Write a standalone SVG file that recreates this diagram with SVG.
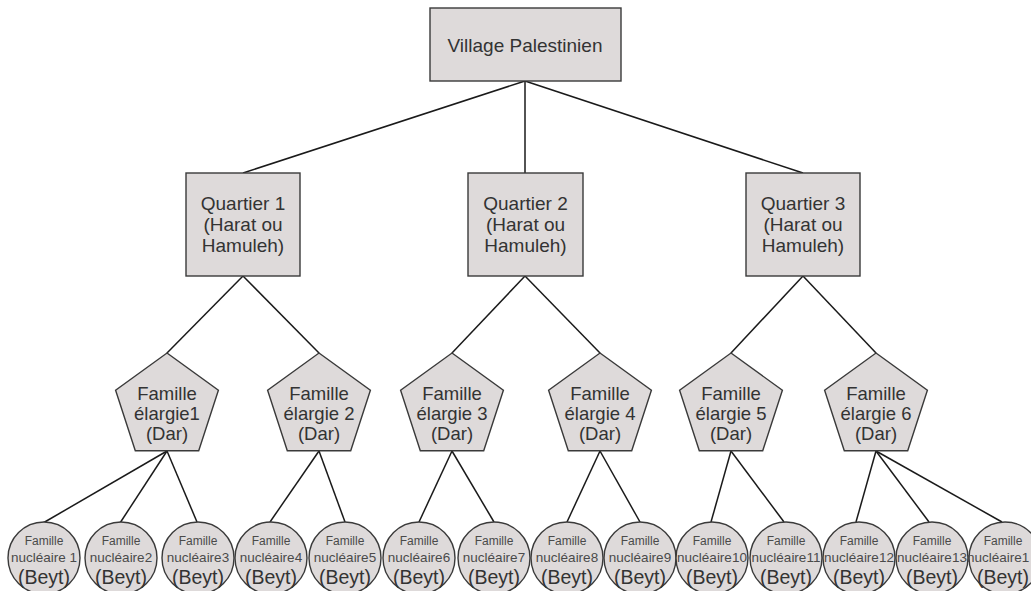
<svg xmlns="http://www.w3.org/2000/svg" width="1031" height="591" viewBox="0 0 1031 591">
<style>
.shape{fill:#dedada;stroke:#3a3a3a;stroke-width:1.4}
.t{font-family:"Liberation Sans",Arial,sans-serif;fill:#333;text-anchor:middle}
.big{font-size:19px}
.mid{font-size:18.5px}
.s1{font-size:12px;fill:#4a4a4a}
.s2{font-size:13.5px;fill:#4a4a4a}
.s3{font-size:19.5px}
#edges line{stroke:#1a1a1a;stroke-width:1.5}
</style>
<defs>
<polygon id="pent" points="0,-54 51.4,-16.7 31.7,43.7 -31.7,43.7 -51.4,-16.7"/>
</defs>
<rect width="1031" height="591" fill="#ffffff"/>
<g id="edges">
<line x1="525" y1="81" x2="243" y2="173"/>
<line x1="525" y1="81" x2="525" y2="173"/>
<line x1="525" y1="81" x2="803" y2="173"/>
<line x1="243" y1="276" x2="167" y2="353"/>
<line x1="243" y1="276" x2="319" y2="353"/>
<line x1="525" y1="276" x2="452" y2="353"/>
<line x1="525" y1="276" x2="600" y2="353"/>
<line x1="803" y1="276" x2="731" y2="353"/>
<line x1="803" y1="276" x2="876" y2="353"/>
<line x1="167" y1="451" x2="43" y2="523"/>
<line x1="167" y1="451" x2="120" y2="523"/>
<line x1="167" y1="451" x2="197" y2="522"/>
<line x1="319" y1="451" x2="270" y2="522"/>
<line x1="319" y1="451" x2="345" y2="522"/>
<line x1="452" y1="451" x2="419" y2="522"/>
<line x1="452" y1="451" x2="494" y2="522"/>
<line x1="600" y1="451" x2="567" y2="522"/>
<line x1="600" y1="451" x2="640" y2="522"/>
<line x1="731" y1="451" x2="711" y2="522"/>
<line x1="731" y1="451" x2="784" y2="522"/>
<line x1="876" y1="451" x2="856" y2="522"/>
<line x1="876" y1="451" x2="929" y2="522"/>
<line x1="876" y1="451" x2="1002" y2="522"/>
</g>
<g id="village">
<rect class="shape" x="430" y="8" width="191" height="73"/>
<text class="t big" x="525" y="52">Village Palestinien</text>
</g>
<g id="quartier1">
<rect class="shape" x="186" y="173" width="114" height="103"/>
<text class="t big" x="243" y="210">Quartier 1</text>
<text class="t big" x="243" y="231">(Harat ou</text>
<text class="t big" x="243" y="252">Hamuleh)</text>
</g>
<g id="quartier2">
<rect class="shape" x="468" y="173" width="115" height="103"/>
<text class="t big" x="525.5" y="210">Quartier 2</text>
<text class="t big" x="525.5" y="231">(Harat ou</text>
<text class="t big" x="525.5" y="252">Hamuleh)</text>
</g>
<g id="quartier3">
<rect class="shape" x="746" y="173" width="114" height="103"/>
<text class="t big" x="803" y="210">Quartier 3</text>
<text class="t big" x="803" y="231">(Harat ou</text>
<text class="t big" x="803" y="252">Hamuleh)</text>
</g>
<g id="dar1">
<use href="#pent" class="shape" transform="translate(167,407)"/>
<text class="t mid" x="167" y="400">Famille</text>
<text class="t mid" x="167" y="420">élargie1</text>
<text class="t mid" x="167" y="440">(Dar)</text>
</g>
<g id="dar2">
<use href="#pent" class="shape" transform="translate(319,407)"/>
<text class="t mid" x="319" y="400">Famille</text>
<text class="t mid" x="319" y="420">élargie 2</text>
<text class="t mid" x="319" y="440">(Dar)</text>
</g>
<g id="dar3">
<use href="#pent" class="shape" transform="translate(452,407)"/>
<text class="t mid" x="452" y="400">Famille</text>
<text class="t mid" x="452" y="420">élargie 3</text>
<text class="t mid" x="452" y="440">(Dar)</text>
</g>
<g id="dar4">
<use href="#pent" class="shape" transform="translate(600,407)"/>
<text class="t mid" x="600" y="400">Famille</text>
<text class="t mid" x="600" y="420">élargie 4</text>
<text class="t mid" x="600" y="440">(Dar)</text>
</g>
<g id="dar5">
<use href="#pent" class="shape" transform="translate(731,407)"/>
<text class="t mid" x="731" y="400">Famille</text>
<text class="t mid" x="731" y="420">élargie 5</text>
<text class="t mid" x="731" y="440">(Dar)</text>
</g>
<g id="dar6">
<use href="#pent" class="shape" transform="translate(876,407)"/>
<text class="t mid" x="876" y="400">Famille</text>
<text class="t mid" x="876" y="420">élargie 6</text>
<text class="t mid" x="876" y="440">(Dar)</text>
</g>
<g id="beyt1"><circle class="shape" cx="44" cy="558" r="36"/><text class="t s1" x="44" y="545">Famille</text><text class="t s2" x="44" y="562">nucléaire 1</text><text class="t s3" x="44" y="584">(Beyt)</text></g>
<g id="beyt2"><circle class="shape" cx="121" cy="558" r="36"/><text class="t s1" x="121" y="545">Famille</text><text class="t s2" x="121" y="562">nucléaire2</text><text class="t s3" x="121" y="584">(Beyt)</text></g>
<g id="beyt3"><circle class="shape" cx="198" cy="558" r="36"/><text class="t s1" x="198" y="545">Famille</text><text class="t s2" x="198" y="562">nucléaire3</text><text class="t s3" x="198" y="584">(Beyt)</text></g>
<g id="beyt4"><circle class="shape" cx="271" cy="558" r="36"/><text class="t s1" x="271" y="545">Famille</text><text class="t s2" x="271" y="562">nucléaire4</text><text class="t s3" x="271" y="584">(Beyt)</text></g>
<g id="beyt5"><circle class="shape" cx="345" cy="558" r="36"/><text class="t s1" x="345" y="545">Famille</text><text class="t s2" x="345" y="562">nucléaire5</text><text class="t s3" x="345" y="584">(Beyt)</text></g>
<g id="beyt6"><circle class="shape" cx="419" cy="558" r="36"/><text class="t s1" x="419" y="545">Famille</text><text class="t s2" x="419" y="562">nucléaire6</text><text class="t s3" x="419" y="584">(Beyt)</text></g>
<g id="beyt7"><circle class="shape" cx="494" cy="558" r="36"/><text class="t s1" x="494" y="545">Famille</text><text class="t s2" x="494" y="562">nucléaire7</text><text class="t s3" x="494" y="584">(Beyt)</text></g>
<g id="beyt8"><circle class="shape" cx="567" cy="558" r="36"/><text class="t s1" x="567" y="545">Famille</text><text class="t s2" x="567" y="562">nucléaire8</text><text class="t s3" x="567" y="584">(Beyt)</text></g>
<g id="beyt9"><circle class="shape" cx="640" cy="558" r="36"/><text class="t s1" x="640" y="545">Famille</text><text class="t s2" x="640" y="562">nucléaire9</text><text class="t s3" x="640" y="584">(Beyt)</text></g>
<g id="beyt10"><circle class="shape" cx="712" cy="558" r="36"/><text class="t s1" x="712" y="545">Famille</text><text class="t s2" x="712" y="562">nucléaire10</text><text class="t s3" x="712" y="584">(Beyt)</text></g>
<g id="beyt11"><circle class="shape" cx="786" cy="558" r="36"/><text class="t s1" x="786" y="545">Famille</text><text class="t s2" x="786" y="562">nucléaire11</text><text class="t s3" x="786" y="584">(Beyt)</text></g>
<g id="beyt12"><circle class="shape" cx="859" cy="558" r="36"/><text class="t s1" x="859" y="545">Famille</text><text class="t s2" x="859" y="562">nucléaire12</text><text class="t s3" x="859" y="584">(Beyt)</text></g>
<g id="beyt13"><circle class="shape" cx="932" cy="558" r="36"/><text class="t s1" x="932" y="545">Famille</text><text class="t s2" x="932" y="562">nucléaire13</text><text class="t s3" x="932" y="584">(Beyt)</text></g>
<g id="beyt14"><circle class="shape" cx="1005" cy="558" r="36"/><text class="t s1" x="1003" y="545">Famille</text><text class="t s2" x="967" y="562" style="text-anchor:start">nucléaire1</text><text class="t s3" x="1003" y="584">(Beyt)</text></g>
</svg>
